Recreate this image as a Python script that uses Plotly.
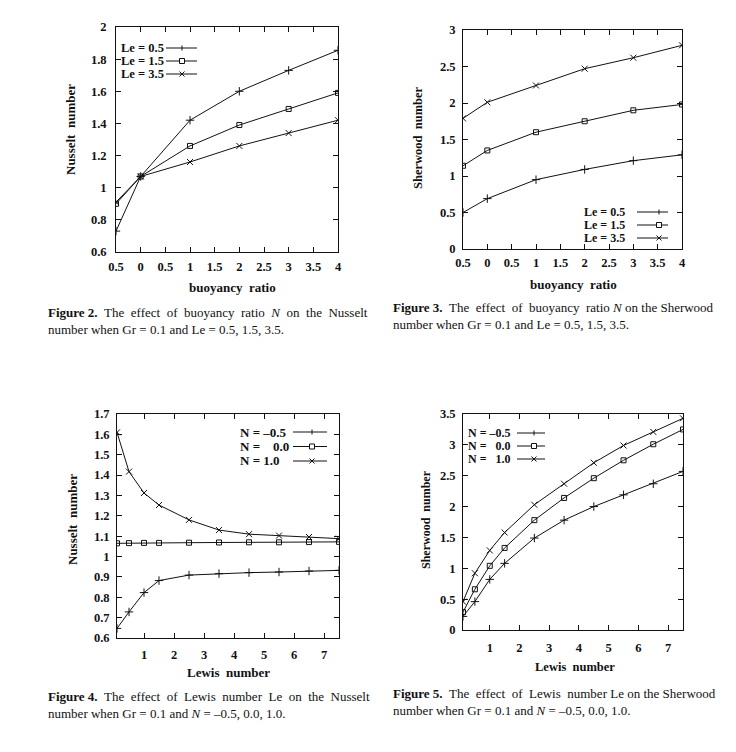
import plotly.graph_objects as go

W, H = 736, 752

# ---------------- data ----------------
# Figures 2 and 3: buoyancy ratio N
buoy_x = [-0.5, 0, 1, 2, 3, 4]
buoy_tickvals = [-0.5, 0, 0.5, 1, 1.5, 2, 2.5, 3, 3.5, 4]
buoy_ticktext = ["0.5", "0", "0.5", "1", "1.5", "2", "2.5", "3", "3.5", "4"]

nu_le05 = [0.73, 1.07, 1.42, 1.60, 1.73, 1.855]
nu_le15 = [0.90, 1.07, 1.26, 1.39, 1.49, 1.59]
nu_le35 = [0.91, 1.07, 1.16, 1.26, 1.34, 1.42]

sh_le05 = [0.50, 0.69, 0.95, 1.09, 1.21, 1.29]
sh_le15 = [1.14, 1.35, 1.60, 1.75, 1.90, 1.98]
sh_le35 = [1.79, 2.01, 2.24, 2.47, 2.62, 2.79]

# Figures 4 and 5: Lewis number Le
lewis_x = [0.1, 0.5, 1, 1.5, 2.5, 3.5, 4.5, 5.5, 6.5, 7.5]
lewis_tickvals = [1, 2, 3, 4, 5, 6, 7]

nu_nm05 = [0.647, 0.728, 0.823, 0.882, 0.909, 0.916, 0.921, 0.924, 0.929, 0.932]
nu_n00 = [1.065, 1.066, 1.067, 1.067, 1.068, 1.069, 1.070, 1.070, 1.071, 1.072]
nu_n10 = [1.61, 1.417, 1.312, 1.253, 1.18, 1.13, 1.11, 1.103, 1.096, 1.088]

sh_nm05 = [0.22, 0.46, 0.82, 1.08, 1.49, 1.78, 2.00, 2.19, 2.37, 2.57]
sh_n00 = [0.29, 0.66, 1.04, 1.33, 1.78, 2.14, 2.46, 2.75, 3.01, 3.25]
sh_n10 = [0.46, 0.92, 1.29, 1.58, 2.03, 2.37, 2.71, 2.99, 3.21, 3.43]

# ---------------- helpers ----------------
INK = "#111111"
SERIF = "Liberation Serif"


def px(x):
    return x / W


def py(y):
    return 1 - y / H


MARKERS = {"plus": "cross-thin-open", "square": "square-open", "x": "x-thin-open"}

fig = go.Figure()


def add_series(xs, ys, sym, ax):
    fig.add_trace(go.Scatter(
        x=xs, y=ys, mode="lines+markers",
        line=dict(color=INK, width=1),
        marker=dict(symbol=MARKERS[sym], size=6 if sym != "square" else 5,
                    color=INK, line=dict(color=INK, width=1)),
        xaxis="x" + ax, yaxis="y" + ax, showlegend=False, hoverinfo="skip",
    ))


for ys, s in [(nu_le05, "plus"), (nu_le15, "square"), (nu_le35, "x")]:
    add_series(buoy_x, ys, s, "")
for ys, s in [(sh_le05, "plus"), (sh_le15, "square"), (sh_le35, "x")]:
    add_series(buoy_x, ys, s, "2")
for ys, s in [(nu_nm05, "plus"), (nu_n00, "square"), (nu_n10, "x")]:
    add_series(lewis_x, ys, s, "3")
for ys, s in [(sh_nm05, "plus"), (sh_n00, "square"), (sh_n10, "x")]:
    add_series(lewis_x, ys, s, "4")

tickfont = dict(family=SERIF, size=12.5, color=INK, weight="bold")


def axis(domain, rng, anchor, **kw):
    d = dict(domain=domain, range=rng, anchor=anchor, showline=True, linecolor=INK,
             linewidth=1, mirror="ticks", ticks="inside", ticklen=5, tickcolor=INK,
             tickwidth=1, showgrid=False, zeroline=False, tickfont=tickfont,
             automargin=False, fixedrange=True)
    d.update(kw)
    return d


# plot boxes in pixel coords (left, right, top, bottom)
box2 = (116, 338, 27, 252)
box3 = (463, 682, 30, 249)
box4 = (117, 339, 414, 638)
box5 = (463, 683, 414, 630)


def xd(b):
    return [px(b[0]), px(b[1])]


def yd(b):
    return [py(b[3]), py(b[2])]


fig.update_layout(
    xaxis=axis(xd(box2), [-0.5, 4], "y", tickvals=buoy_tickvals, ticktext=buoy_ticktext, ticklabelstandoff=3),
    yaxis=axis(yd(box2), [0.6, 2.0], "x", tickvals=[0.6, 0.8, 1, 1.2, 1.4, 1.6, 1.8, 2],
               ticktext=["0.6", "0.8", "1", "1.2", "1.4", "1.6", "1.8", "2"], ticklabelstandoff=6),
    xaxis2=axis(xd(box3), [-0.5, 4], "y2", tickvals=buoy_tickvals, ticktext=buoy_ticktext, ticklabelstandoff=2),
    yaxis2=axis(yd(box3), [0, 3], "x2", tickvals=[0, 0.5, 1, 1.5, 2, 2.5, 3],
                ticktext=["0", "0.5", "1", "1.5", "2", "2.5", "3"], ticklabelstandoff=4),
    xaxis3=axis(xd(box4), [0.1, 7.5], "y3", tickvals=lewis_tickvals, ticklabelstandoff=5),
    yaxis3=axis(yd(box4), [0.6, 1.7], "x3", tickvals=[0.6, 0.7, 0.8, 0.9, 1.0, 1.1, 1.2, 1.3, 1.4, 1.5, 1.6, 1.7],
                ticktext=["0.6", "0.7", "0.8", "0.9", "1", "1.1", "1.2", "1.3", "1.4", "1.5", "1.6", "1.7"],
                ticklabelstandoff=4),
    xaxis4=axis(xd(box5), [0.1, 7.5], "y4", tickvals=lewis_tickvals, ticklabelstandoff=6),
    yaxis4=axis(yd(box5), [0, 3.5], "x4", tickvals=[0, 0.5, 1, 1.5, 2, 2.5, 3, 3.5],
                ticktext=["0", "0.5", "1", "1.5", "2", "2.5", "3", "3.5"], ticklabelstandoff=4),
)

annotations = []
shapes = []


def text(x, y, s, size=12, bold=True, xanchor="center", yanchor="middle", angle=0, family=SERIF):
    annotations.append(dict(
        x=px(x), y=py(y), xref="paper", yref="paper", text=s, showarrow=False,
        xanchor=xanchor, yanchor=yanchor, textangle=angle, borderpad=0,
        font=dict(family=family, size=size, color=INK, weight="bold" if bold else "normal"),
    ))


# axis titles
text(232, 287, "buoyancy  ratio", 13)
text(70, 130, "Nusselt  number", 13, angle=-90)
text(573, 285, "buoyancy  ratio", 13)
text(418, 138, "Sherwood  number", 12.5, angle=-90)
text(228, 672, "Lewis  number", 13)
text(72, 520, "Nusselt  number", 13, angle=-90)
text(575, 667, "Lewis  number", 12.5)
text(426, 520, "Sherwood  number", 12, angle=-90)


def legend_entry(tx, y, label, x0, x1, mx, sym, size):
    text(tx, y, label, size, xanchor="left")
    shapes.append(dict(type="line", xref="paper", yref="paper", x0=px(x0), x1=px(x1),
                       y0=py(y), y1=py(y), line=dict(color=INK, width=1)))
    r = 2.5
    if sym == "plus":
        shapes.append(dict(type="line", xref="paper", yref="paper", x0=px(mx), x1=px(mx),
                           y0=py(y - r), y1=py(y + r), line=dict(color=INK, width=1)))
    elif sym == "square":
        shapes.append(dict(type="rect", xref="paper", yref="paper", x0=px(mx - r), x1=px(mx + r),
                           y0=py(y - r), y1=py(y + r), fillcolor="white",
                           line=dict(color=INK, width=1)))
    else:
        shapes.append(dict(type="line", xref="paper", yref="paper", x0=px(mx - r), x1=px(mx + r),
                           y0=py(y - r), y1=py(y + r), line=dict(color=INK, width=1)))
        shapes.append(dict(type="line", xref="paper", yref="paper", x0=px(mx - r), x1=px(mx + r),
                           y0=py(y + r), y1=py(y - r), line=dict(color=INK, width=1)))


NB = "\u00a0"
le_labels = ["Le = 0.5", "Le = 1.5", "Le = 3.5"]
n_labels4 = ["N = \u20130.5", "N =" + NB * 4 + "0.0", "N = 1.0"]
n_labels5 = ["N = \u20130.5", "N =" + NB * 3 + "0.0", "N =" + NB * 3 + "1.0"]
syms = ["plus", "square", "x"]

for lab, y, s in zip(le_labels, [48, 61, 74], syms):
    legend_entry(120, y, lab, 166, 197, 182, s, 12.5)
for lab, y, s in zip(le_labels, [212, 225, 238], syms):
    legend_entry(583, y, lab, 637, 668, 659, s, 12)
for lab, y, s in zip(n_labels4, [432, 446.5, 461], syms):
    legend_entry(239, y, lab, 293, 327, 312, s, 13)
for lab, y, s in zip(n_labels5, [433, 446, 459], syms):
    legend_entry(467, y, lab, 517, 545, 534, s, 12)


# captions (first line justified with extra spaces, as in the printed page)
def justify(s, k):
    parts = s.split(" ")
    out = parts[0]
    for i, p in enumerate(parts[1:]):
        out += (" " + NB if 1 <= i <= k else " ") + p
    return out


cap = [
    (47, 312, 329, justify("<b>Figure 2.</b> The effect of buoyancy ratio <i>N</i> on the Nusselt", 9),
     "number when Gr = 0.1 and Le = 0.5, 1.5, 3.5."),
    (392, 307, 324, justify("<b>Figure 3.</b> The effect of buoyancy ratio <i>N</i> on the Sherwood", 5),
     "number when Gr = 0.1 and Le = 0.5, 1.5, 3.5."),
    (47, 696, 713, justify("<b>Figure 4.</b> The effect of Lewis number Le on the Nusselt", 9),
     "number when Gr = 0.1 and <i>N</i> = \u20130.5, 0.0, 1.0."),
    (392, 693, 710, justify("<b>Figure 5.</b> The effect of Lewis number Le on the Sherwood", 5),
     "number when Gr = 0.1 and <i>N</i> = \u20130.5, 0.0, 1.0."),
]
for x, y1, y2, l1, l2 in cap:
    text(x, y1, l1, 13, bold=False, xanchor="left")
    text(x, y2, l2, 13, bold=False, xanchor="left")

fig.update_layout(
    width=W, height=H, autosize=False,
    margin=dict(l=0, r=0, t=0, b=0),
    paper_bgcolor="white", plot_bgcolor="white",
    annotations=annotations, shapes=shapes, showlegend=False,
)

fig.write_html("out.html", config={"displayModeBar": False, "staticPlot": True},
               post_script="document.body.style.margin='0';")
